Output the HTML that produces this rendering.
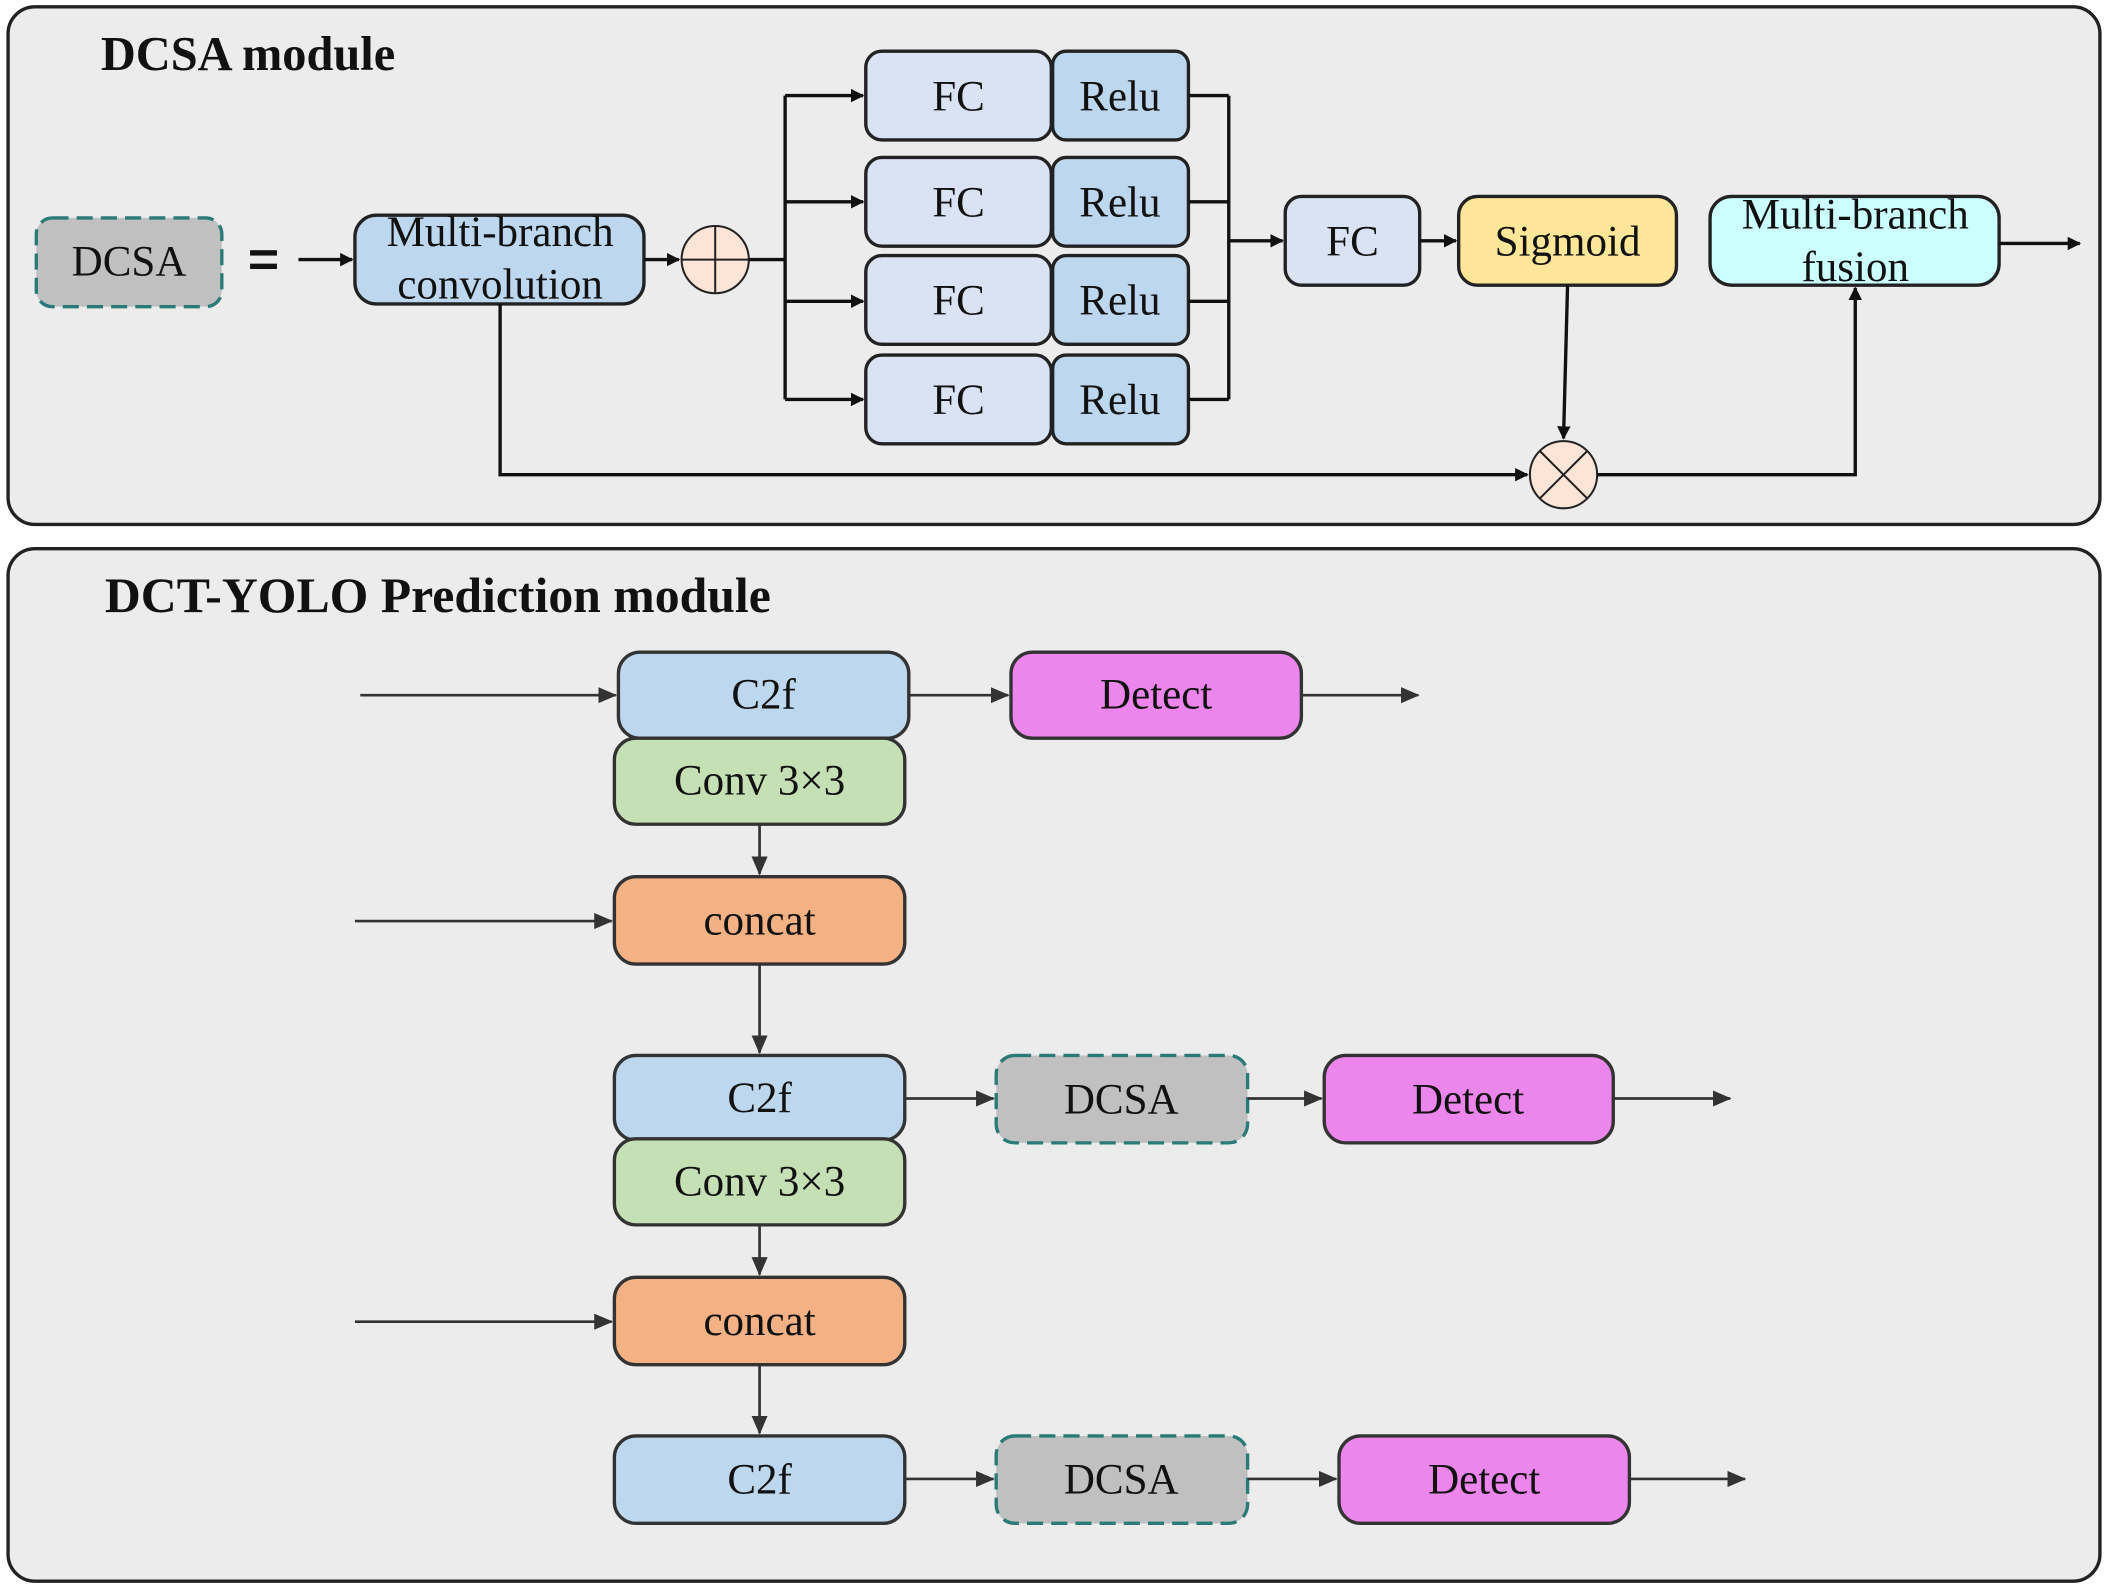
<!DOCTYPE html>
<html><head><meta charset="utf-8"><style>
html,body{margin:0;padding:0;background:#fff;}
svg{display:block;}
text{font-family:"Liberation Serif",serif;fill:#111;}
</style></head><body>
<svg width="2108" height="1588" viewBox="0 0 1568 1181" xmlns="http://www.w3.org/2000/svg">
<defs>
<marker id="a" markerWidth="10" markerHeight="10" refX="9" refY="5" orient="auto" markerUnits="userSpaceOnUse">
<path d="M0,0 L10,5 L0,10 z" fill="#111"/></marker>
<marker id="b" markerWidth="14" markerHeight="12" refX="13" refY="6" orient="auto" markerUnits="userSpaceOnUse">
<path d="M0,0 L14,6 L0,12 z" fill="#333"/></marker>
</defs>
<rect x="6" y="5" width="1556" height="385" rx="20" fill="#ececec" stroke="#222" stroke-width="2.5"/>
<rect x="6" y="408" width="1556" height="768" rx="20" fill="#ececec" stroke="#222" stroke-width="2.5"/>
<text x="75" y="52" font-size="36" font-weight="bold">DCSA module</text>
<text x="78" y="455" font-size="37" font-weight="bold">DCT-YOLO Prediction module</text>

<g stroke="#222" stroke-width="2.5">
<rect x="27" y="162" width="138" height="66" rx="12" fill="#c0c0c0" stroke="#2a7a78" stroke-dasharray="12,6"/>
<rect x="264" y="160" width="215" height="66" rx="16" fill="#bdd7ee"/>
<rect x="644" y="38" width="138" height="66" rx="12" fill="#dae3f3"/>
<rect x="644" y="117" width="138" height="66" rx="12" fill="#dae3f3"/>
<rect x="644" y="190" width="138" height="66" rx="12" fill="#dae3f3"/>
<rect x="644" y="264" width="138" height="66" rx="12" fill="#dae3f3"/>
<rect x="783" y="38" width="101" height="66" rx="10" fill="#bdd7ee"/>
<rect x="783" y="117" width="101" height="66" rx="10" fill="#bdd7ee"/>
<rect x="783" y="190" width="101" height="66" rx="10" fill="#bdd7ee"/>
<rect x="783" y="264" width="101" height="66" rx="10" fill="#bdd7ee"/>
<rect x="956" y="146" width="100" height="66" rx="12" fill="#dae3f3"/>
<rect x="1085" y="146" width="162" height="66" rx="14" fill="#ffe699"/>
<rect x="1272" y="146" width="215" height="66" rx="16" fill="#ccffff"/>
<circle cx="532" cy="193" r="25" fill="#fce4d6" stroke-width="1.5"/>
<circle cx="1163" cy="353" r="25" fill="#fce4d6" stroke-width="1.5"/>
</g>
<g stroke="#222" stroke-width="1.5">
<line x1="532" y1="168" x2="532" y2="218"/><line x1="507" y1="193" x2="557" y2="193"/>
<line x1="1145" y1="335" x2="1181" y2="371"/><line x1="1181" y1="335" x2="1145" y2="371"/>
</g>
<g stroke="#111" stroke-width="2.5" fill="none">
<line x1="222" y1="193" x2="262" y2="193" marker-end="url(#a)"/>
<line x1="479" y1="193" x2="505" y2="193" marker-end="url(#a)"/>
<line x1="557" y1="193" x2="584" y2="193"/>
<line x1="584" y1="71" x2="584" y2="297"/>
<line x1="584" y1="71" x2="642" y2="71" marker-end="url(#a)"/>
<line x1="584" y1="150" x2="642" y2="150" marker-end="url(#a)"/>
<line x1="584" y1="224" x2="642" y2="224" marker-end="url(#a)"/>
<line x1="584" y1="297" x2="642" y2="297" marker-end="url(#a)"/>
<line x1="884" y1="71" x2="914" y2="71"/><line x1="884" y1="150" x2="914" y2="150"/>
<line x1="884" y1="224" x2="914" y2="224"/><line x1="884" y1="297" x2="914" y2="297"/>
<line x1="914" y1="71" x2="914" y2="297"/>
<line x1="914" y1="179" x2="954" y2="179" marker-end="url(#a)"/>
<line x1="1056" y1="179" x2="1083" y2="179" marker-end="url(#a)"/>
<line x1="1487" y1="181" x2="1547" y2="181" marker-end="url(#a)"/>
<line x1="1166" y1="212" x2="1163" y2="326" marker-end="url(#a)"/>
<polyline points="372,226 372,353 1136,353" marker-end="url(#a)"/>
<polyline points="1188,353 1380,353 1380,214" marker-end="url(#a)"/>
</g>
<g fill="#111"><rect x="186" y="186" width="20" height="4"/><rect x="186" y="196" width="20" height="4"/></g>
<g font-size="32" text-anchor="middle">
<text x="96" y="205">DCSA</text>
<text x="372" y="183">Multi-branch</text><text x="372" y="222">convolution</text>
<text x="713" y="82">FC</text><text x="713" y="161">FC</text><text x="713" y="234">FC</text><text x="713" y="308">FC</text>
<text x="833" y="82">Relu</text><text x="833" y="161">Relu</text><text x="833" y="234">Relu</text><text x="833" y="308">Relu</text>
<text x="1006" y="190">FC</text>
<text x="1166" y="190">Sigmoid</text>
<text x="1380" y="170">Multi-branch</text><text x="1380" y="209">fusion</text>
</g>

<g stroke="#333" stroke-width="2.5">
<rect x="460" y="485" width="216" height="64" rx="16" fill="#bdd7ee"/>
<rect x="752" y="485" width="216" height="64" rx="16" fill="#ec86ec"/>
<rect x="457" y="549" width="216" height="64" rx="16" fill="#c5e0b4"/>
<rect x="457" y="652" width="216" height="65" rx="16" fill="#f4b183"/>
<rect x="457" y="785" width="216" height="63" rx="16" fill="#bdd7ee"/>
<rect x="741" y="785" width="187" height="65" rx="14" fill="#c0c0c0" stroke="#2a7a78" stroke-dasharray="12,6"/>
<rect x="985" y="785" width="215" height="65" rx="16" fill="#ec86ec"/>
<rect x="457" y="847" width="216" height="64" rx="16" fill="#c5e0b4"/>
<rect x="457" y="950" width="216" height="65" rx="16" fill="#f4b183"/>
<rect x="457" y="1068" width="216" height="65" rx="16" fill="#bdd7ee"/>
<rect x="741" y="1068" width="187" height="65" rx="14" fill="#c0c0c0" stroke="#2a7a78" stroke-dasharray="12,6"/>
<rect x="996" y="1068" width="216" height="65" rx="16" fill="#ec86ec"/>
</g>
<g stroke="#333" stroke-width="2" fill="none">
<line x1="268" y1="517" x2="458" y2="517" marker-end="url(#b)"/>
<line x1="676" y1="517" x2="750" y2="517" marker-end="url(#b)"/>
<line x1="968" y1="517" x2="1055" y2="517" marker-end="url(#b)"/>
<line x1="565" y1="613" x2="565" y2="650" marker-end="url(#b)"/>
<line x1="264" y1="685" x2="455" y2="685" marker-end="url(#b)"/>
<line x1="565" y1="717" x2="565" y2="783" marker-end="url(#b)"/>
<line x1="673" y1="817" x2="739" y2="817" marker-end="url(#b)"/>
<line x1="928" y1="817" x2="983" y2="817" marker-end="url(#b)"/>
<line x1="1200" y1="817" x2="1287" y2="817" marker-end="url(#b)"/>
<line x1="565" y1="911" x2="565" y2="948" marker-end="url(#b)"/>
<line x1="264" y1="983" x2="455" y2="983" marker-end="url(#b)"/>
<line x1="565" y1="1015" x2="565" y2="1066" marker-end="url(#b)"/>
<line x1="673" y1="1100" x2="739" y2="1100" marker-end="url(#b)"/>
<line x1="928" y1="1100" x2="994" y2="1100" marker-end="url(#b)"/>
<line x1="1212" y1="1100" x2="1298" y2="1100" marker-end="url(#b)"/>
</g>
<g font-size="32" text-anchor="middle">
<text x="568" y="527">C2f</text>
<text x="860" y="527">Detect</text>
<text x="565" y="591">Conv 3×3</text>
<text x="565" y="695">concat</text>
<text x="565" y="827">C2f</text>
<text x="834" y="828">DCSA</text>
<text x="1092" y="828">Detect</text>
<text x="565" y="889">Conv 3×3</text>
<text x="565" y="993">concat</text>
<text x="565" y="1111">C2f</text>
<text x="834" y="1111">DCSA</text>
<text x="1104" y="1111">Detect</text>
</g>
</svg>
</body></html>
